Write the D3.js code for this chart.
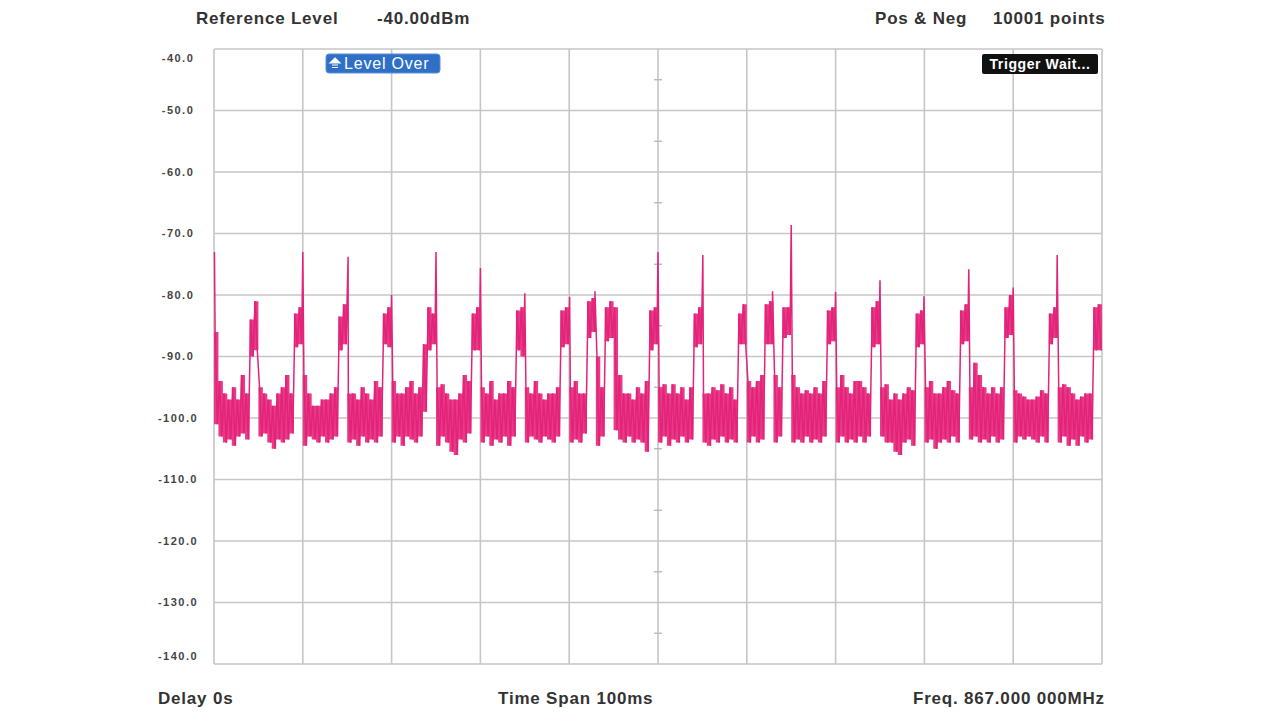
<!DOCTYPE html>
<html><head><meta charset="utf-8">
<script src="https://cdn.jsdelivr.net/npm/d3@7"></script>
<style>html,body{margin:0;padding:0;background:#fff;} svg{display:block}</style>
</head><body>
<svg id="chart" width="1280" height="719"></svg>
<script>
// ---- data ----
const binWidthMs = 0.5; // Pos & Neg detector bins over 100 ms span
const posPeak = [
-86,-94,-96,-97,-95,-97,-93,-96,-84,-81,
-95,-96,-97,-98,-96,-95,-93,-96,-83,-82,
-93,-96,-98,-98,-97,-97,-96,-95,-83.5,-81.5,
-96,-96,-97,-95,-96,-97,-94,-95,-83,-82,
-94,-96,-96,-95,-94,-96,-95,-88,-82,-83,
-95,-94.5,-96,-97,-97,-96,-93,-94,-83,-82,
-95,-96,-94,-97,-96,-96,-94,-95,-82.5,-82,
-95,-96,-94,-96,-97,-96,-96,-95,-82.5,-82,
-95,-94,-96,-96,-81,-80.5,-90,-95,-82,-81,
-82,-93,-96,-96,-97,-95,-96,-94,-82.5,-82,
-95,-94.5,-96,-94.5,-96,-95,-97,-95,-83,-82,
-96,-96,-95,-95.5,-94.5,-96,-95,-97,-83,-81.5,
-94,-95,-94,-93,-81.5,-81,-93,-95,-82,-82,
-93,-95,-96,-95.5,-96,-95,-96,-94,-82.5,-82,
-95,-93,-95,-96,-94,-94,-95,-96,-82,-81,
-95,-94.5,-97,-96,-97,-96,-95,-95.5,-83,-82.5,
-95,-94,-96,-96,-95,-94,-95.5,-96,-82.5,-81.5,
-95,-91,-93,-95,-96,-95,-96,-95,-82,-80,
-95.5,-96,-96.5,-97,-97,-96.5,-95.5,-96,-83,-82,
-95,-94.5,-95,-96,-97,-96.5,-96,-96,-82,-81.5
];
const negPeak = [
-101,-103,-104,-103.5,-104.5,-103,-102.5,-103.5,-90,-89,
-103,-102.5,-104,-105,-103.5,-104,-103.5,-102.5,-88.5,-88,
-104.5,-103,-103.5,-104,-103,-104,-103.5,-103,-89,-88,
-104,-103.5,-104.5,-103,-104,-103.5,-104,-103,-88,-88.5,
-104,-103,-104.5,-103,-103.5,-104,-103,-99,-89,-88,
-104.5,-103,-104,-105.5,-106,-103.5,-104,-102.5,-89,-89,
-104,-103,-104.5,-103.5,-104,-103,-104.5,-103,-89,-90,
-104,-103,-103.5,-104,-103,-103.5,-104,-103,-88.5,-88,
-104,-103.5,-104,-102.5,-87,-86,-104.5,-103,-87.5,-87,
-102,-103.5,-104,-103,-104,-103.5,-104,-105.5,-89,-88,
-104,-103,-104.5,-103.5,-104,-103,-104,-103.5,-88.5,-88,
-104,-104.5,-103.5,-104,-103,-104,-103.5,-104,-88,-88,
-104,-103,-104,-103.5,-88,-88,-104,-103,-87,-86.5,
-104,-103.5,-104,-103,-104,-103.5,-104,-103,-88,-87.5,
-104,-103,-104,-103.5,-104,-103,-104,-103,-88.5,-88,
-103,-104,-104,-105.5,-106,-104,-103.5,-104.5,-88.5,-88,
-104,-103.5,-105,-104,-103.5,-104,-103,-104,-88,-87.5,
-103.5,-103,-104,-103.5,-104,-103,-104,-103.5,-87,-86.5,
-104,-103,-103.5,-103,-103.5,-104,-103,-104,-88,-87,
-104,-103,-104.5,-103.5,-104.5,-103,-104,-103.5,-89,-89
];
const spikeTimes = [0.05,10.0,15.1,20.0,25.0,30.0,35.0,40.05,42.9,50.0,55.05,62.9,65.0,70.0,75.0,79.95,85.0,90.0,94.95];
const spikePeaks = [-73,-73,-73.8,-80,-73,-75.6,-79.7,-80.3,-79.4,-73,-73.5,-79.4,-68.6,-79.5,-77.6,-80.2,-75.8,-78.8,-73.5];

const yTickValues = [-40,-50,-60,-70,-80,-90,-100,-110,-120,-130,-140];
const yMinorValues = [-45,-55,-65,-75,-85,-95,-105,-115,-125,-135];
const xGridValues = [0,10,20,30,40,50,60,70,80,90,100];
const headerTop = ["Reference Level","-40.00dBm","Pos & Neg","10001 points"];
const footerTexts = ["Delay 0s","Time Span 100ms","Freq. 867.000 000MHz"];
const badgeLevel = "Level Over";
const badgeTrigger = "Trigger Wait...";

// ---- layout ----
const svg = d3.select("#chart");
const L = 214, R = 1102, T = 49, B = 664;
const x = d3.scaleLinear().domain([0,100]).range([L,R]);
const y = d3.scaleLinear().domain([-140,-40]).range([B,T]);
const gridColor = "#c6c6c6";
const font = "'Liberation Sans', Arial, sans-serif";

svg.append("rect").attr("width",1280).attr("height",719).attr("fill","#fff");

// grid
const grid = svg.append("g");
grid.selectAll("line.h").data(yTickValues).join("line")
  .attr("x1",L).attr("x2",R).attr("y1",d=>y(d)).attr("y2",d=>y(d))
  .attr("stroke",gridColor).attr("stroke-width",1.6);
grid.selectAll("line.v").data(xGridValues).join("line")
  .attr("x1",d=>x(d)).attr("x2",d=>x(d)).attr("y1",T).attr("y2",B)
  .attr("stroke",gridColor).attr("stroke-width",1.6);
grid.selectAll("line.m").data(yMinorValues).join("line")
  .attr("x1",x(50)-4).attr("x2",x(50)+4).attr("y1",d=>y(d)).attr("y2",d=>y(d))
  .attr("stroke","#b5b5b5").attr("stroke-width",1.3);

// y labels via axis
const yAxis = d3.axisLeft(y).tickValues(yTickValues).tickSize(0).tickFormat(d=>d.toFixed(1));
const ga = svg.append("g").attr("transform",`translate(${L},0)`).call(yAxis);
ga.select(".domain").remove();
ga.selectAll("text")
  .attr("x",-36).attr("text-anchor","middle")
  .attr("font-family",font).attr("font-size",11).attr("font-weight","bold").attr("letter-spacing","1.5px")
  .attr("fill","#444").attr("dy","0.35em");
ga.selectAll(".tick").attr("transform",d=>`translate(0,${Math.min(Math.max(y(d),58),656)})`);

// trace: Pos & Neg envelope (filled per bin) + sample path
const bins = posPeak.map((p,i)=>({t:i*binWidthMs, pos:p, neg:negPeak[i]}));
const last = bins[bins.length-1];
const binsEdge = bins.concat([{t:100, pos:last.pos, neg:last.neg}]);
const area = d3.area().curve(d3.curveStepAfter)
  .x(d=>x(d.t)).y0(d=>y(d.neg)).y1(d=>y(d.pos));
svg.append("path").datum(binsEdge).attr("d",area)
  .attr("fill","#e83a86").attr("stroke","none");

const pts = [];
bins.forEach(b=>{
  pts.push([b.t + binWidthMs*0.25, b.pos]);
  pts.push([b.t + binWidthMs*0.75, b.neg]);
});
spikeTimes.forEach((t,i)=>pts.push([t, spikePeaks[i]]));
pts.sort((a,b)=>a[0]-b[0]);
const line = d3.line().x(d=>x(d[0])).y(d=>y(d[1]));
svg.append("path").datum(pts).attr("d",line)
  .attr("fill","none").attr("stroke","#e3237a").attr("stroke-width",1.5)
  .attr("stroke-linejoin","miter");

// header / footer text
const txt = (s,xp,yp,opt={}) => svg.append("text").text(s).attr("x",xp).attr("y",yp)
  .attr("font-family",font).attr("font-size",opt.size||17).attr("font-weight",opt.weight||"bold")
  .attr("letter-spacing",opt.ls||"0.8px").attr("fill",opt.fill||"#333")
  .attr("text-anchor",opt.anchor||"start");
txt(headerTop[0],196,24);
txt(headerTop[1],377,24);
txt(headerTop[2],875,24);
txt(headerTop[3],993,24);
txt(footerTexts[0],158,704);
txt(footerTexts[1],498,704);
txt(footerTexts[2],913,704);

// badges
svg.append("rect").attr("x",326).attr("y",54).attr("width",114).attr("height",19).attr("rx",3)
  .attr("fill","#2f70c6").attr("stroke","#5b8fd4").attr("stroke-width",1);
svg.append("path").attr("d","M335,58 L340,63 L330,63 Z M332,65 L338,65 M332,67.5 L338,67.5")
  .attr("fill","#fff").attr("stroke","#fff").attr("stroke-width",1.2);
txt(badgeLevel,344,69,{size:16,weight:"normal",ls:"0.8px",fill:"#fff"});
svg.append("rect").attr("x",982).attr("y",54).attr("width",116).attr("height",20).attr("rx",2)
  .attr("fill","#111");
txt(badgeTrigger,1040,69,{size:14,weight:"bold",ls:"0.6px",fill:"#fff",anchor:"middle"});
</script>
</body></html>
